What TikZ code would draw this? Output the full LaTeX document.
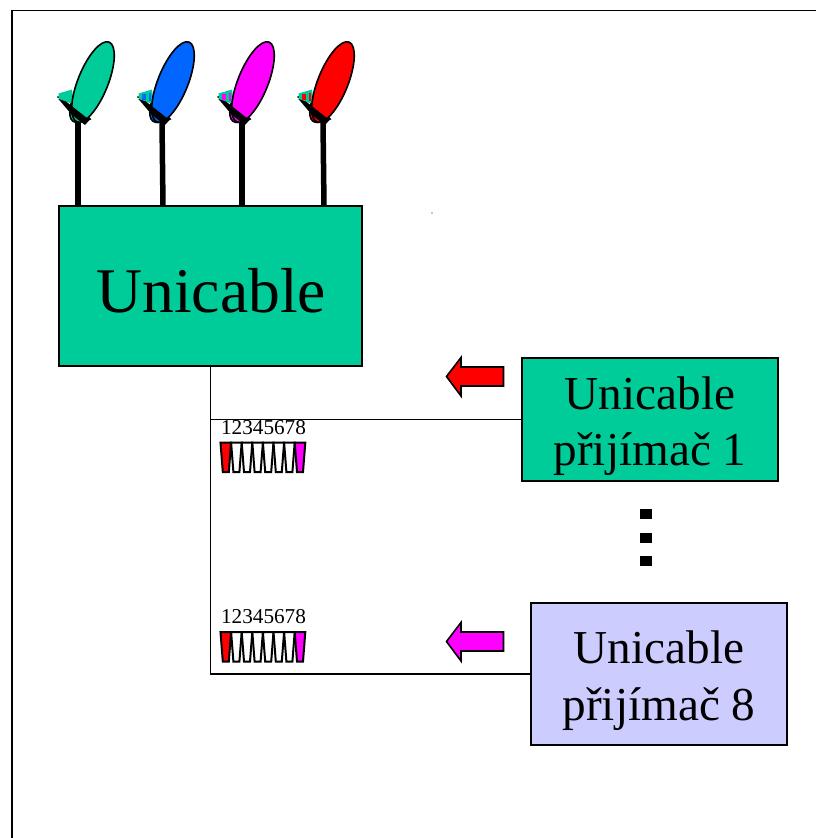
\documentclass[tikz,border=0pt]{standalone}
\usepackage{fontspec}
\setmainfont{Liberation Serif}
\definecolor{ugreen}{HTML}{00CC99}
\definecolor{ublue}{HTML}{0066FF}
\definecolor{umag}{HTML}{FF00FF}
\definecolor{ured}{HTML}{FF0000}
\definecolor{ulav}{HTML}{CCCCFF}
\tikzset{
  boxn/.style={draw=black,line width=1.7pt,inner sep=0pt,align=center},
  wire/.style={draw=black,line width=1.9pt},
  dots/.style={fill=black,draw=none,minimum width=12pt,minimum height=10pt,inner sep=0pt},
  digits/.style={font=\fontsize{21.2}{21}\selectfont,inner sep=0pt},
  bigtext/.style={font=\fontsize{47.2}{56.5}\selectfont},
}
\newcommand{\dish}[4]{% x offset, colour, pole top x, pole bottom x
  \begin{scope}[xshift=#1pt]
    \draw[black,line width=1.6pt,fill=#2] (72,100) .. controls (68,113) and (69,123) .. (78,122.5) -- (90,119) -- cycle;
    \fill[ugreen] (58.5,93.5) -- (72,89.5) -- (74,104) -- (58.5,100) -- cycle;
    \fill[#2] (61.5,94) rectangle (65.5,99.5);
    \fill[#2] (68.5,92.5) rectangle (70.5,100.5);
    \fill[black] (58,97) circle (1);
    \draw[black,line width=1.6pt,fill=#2,rotate around={-22:(93,82)}] (93,82) ellipse (15 and 43);
    \fill[black] (58.5,99) -- (66,101.5) -- (89.5,120) -- (85,125) -- (72,115) -- cycle;
  \end{scope}
  \draw[black,line width=5.5pt] (#3,122) -- (#4,206);
}
\newcommand{\comb}[1]{% top y
  \begin{scope}[yshift=-#1pt]
    \foreach \i/\c in {0/ured,1/white,2/white,3/white,4/white,5/white,6/white,7/umag}{
      \pgfmathsetmacro{\xa}{220.5+\i*10.6}
      \draw[black,line width=2pt,line join=miter,fill=\c]
        (\xa,0) -- (\xa+10.6,0) -- (\xa+8.3,29.5) -- (\xa+2.3,29.5) -- cycle;
    }
  \end{scope}
}
\newcommand{\larrow}[2]{% y shift, colour
  \draw[black,line width=1.6pt,fill=#2,yshift=-#1pt] (446.5,376.5) -- (461,357.5) -- (461,367) -- (503.5,367) -- (503.5,386) -- (461,386) -- (461,396) -- cycle;
}
\begin{document}
\begin{tikzpicture}[x=1pt,y=-1pt]
\useasboundingbox (0,0) rectangle (816,838);
\fill[white] (0,0) rectangle (816,838);
\draw[black,line width=1.7pt] (816,10.5) -- (12,10.5) -- (12,838);
\fill[black] (432,213) circle (0.6);
\dish{0}{ugreen}{78}{78}
\dish{80}{ublue}{162}{163}
\dish{160}{umag}{242}{242}
\dish{240}{ured}{323}{324}
\node[boxn,fill=ugreen,minimum width=303pt,minimum height=160pt,font=\fontsize{63.6}{63}\selectfont] (main) at (210.5,286) {\hspace*{1.5pt}\raisebox{-5pt}[\height][\depth]{Unicable}};
\node[boxn,fill=ugreen,minimum width=256pt,minimum height=123pt,bigtext] (rxa) at (650,419.5) {\raisebox{-6.5pt}[\height][\depth]{\parbox{254pt}{\centering Unicable\\přijímač 1}}};
\node[boxn,fill=ulav,minimum width=256pt,minimum height=142pt,bigtext] (rxb) at (659,674) {\raisebox{-6.5pt}[\height][\depth]{\parbox{254pt}{\centering Unicable\\přijímač 8}}};
\coordinate (ja) at (main.south |- rxa.west);
\coordinate (jb) at (main.south |- rxb.west);
\draw[wire] (main.south) -- (jb) -- (rxb.west);
\draw[wire] (ja) -- (rxa.west);
\node[digits] (da) at (263.5,428) {12345678};
\node[digits] (db) at (263.5,617) {12345678};
\comb{442.5}
\comb{632}
\larrow{0}{ured}
\larrow{265}{umag}
\node[dots] (d1) at (645.5,514) {};
\node[dots] (d2) at (645.5,537.5) {};
\node[dots] (d3) at (645.5,561) {};
\end{tikzpicture}
\end{document}
